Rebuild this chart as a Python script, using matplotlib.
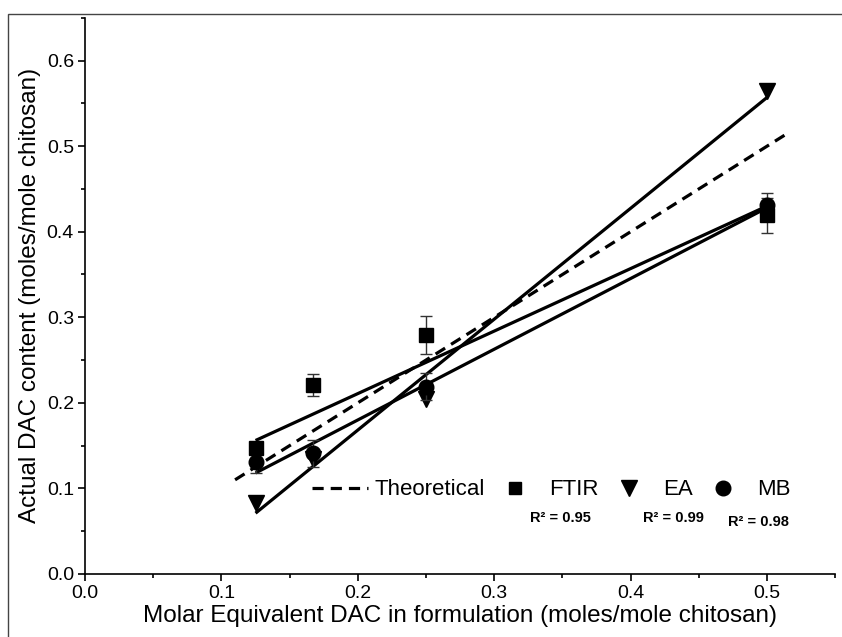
import matplotlib.pyplot as plt
from matplotlib.lines import Line2D
from matplotlib.patches import Rectangle
from matplotlib.ticker import MultipleLocator

plt.rcParams['font.family'] = ['Liberation Sans', 'DejaVu Sans']

# molar equivalents of DAC used in each formulation
dac_added = [0.125, 0.167, 0.25, 0.5]

# measured DAC content by each method
ftir = [0.147, 0.221, 0.279, 0.419]
ftir_err = [0.004, 0.013, 0.022, 0.020]
ea = [0.083, 0.134, 0.205, 0.565]
mb = [0.131, 0.141, 0.219, 0.431]
mb_err = [0.013, 0.016, 0.016, 0.014]

# linear fits over the formulation range
fit_x = [0.125, 0.5]
ftir_fit = [0.156, 0.430]
ea_fit = [0.071, 0.557]
mb_fit = [0.118, 0.428]
theo_x = [0.11, 0.517]

r2_labels = ["R\u00b2 = 0.95", "R\u00b2 = 0.99", "R\u00b2 = 0.98"]
r2_x = [0.326, 0.409, 0.471]
r2_y = [0.065, 0.065, 0.061]

fig = plt.figure(figsize=(8.42, 6.37), dpi=100)
ax = fig.add_axes([0.101, 0.099, 0.891, 0.873])

dash = (0, (3.5, 2.2))
ax.plot(theo_x, theo_x, color='black', lw=2.3, ls=dash, zorder=2)
for fit in (ftir_fit, ea_fit, mb_fit):
    ax.plot(fit_x, fit, color='black', lw=2.3, solid_capstyle='butt', zorder=2)

ax.errorbar(dac_added, ftir, yerr=ftir_err, fmt='s', color='black', ms=9.5,
            ecolor='#333333', elinewidth=1, capsize=4, capthick=1, zorder=3)
ax.plot(dac_added, ea, 'v', color='black', ms=11, ls='none', zorder=3)
ax.errorbar(dac_added, mb, yerr=mb_err, fmt='o', color='black', ms=10.5,
            ecolor='#333333', elinewidth=1, capsize=4, capthick=1, zorder=3)

for x, y, s in zip(r2_x, r2_y, r2_labels):
    ax.text(x, y, s, fontsize=10.5, fontweight='bold', ha='left', va='center')

handles = [
    Line2D([], [], color='black', lw=2.3, ls=dash),
    Line2D([], [], marker='s', color='black', ls='none', ms=9),
    Line2D([], [], marker='v', color='black', ls='none', ms=11),
    Line2D([], [], marker='o', color='black', ls='none', ms=10.5),
]
ax.legend(handles, ['Theoretical', 'FTIR', 'EA', 'MB'], loc='center left',
          bbox_to_anchor=(0.303, 0.151), ncol=4, frameon=False,
          fontsize=16, handlelength=2.5, handletextpad=0.3, columnspacing=0.1,
          borderpad=0, borderaxespad=0)

ax.set_xlim(0, 0.55)
ax.set_ylim(0, 0.65)
ax.xaxis.set_major_locator(MultipleLocator(0.1))
ax.xaxis.set_minor_locator(MultipleLocator(0.05))
ax.yaxis.set_major_locator(MultipleLocator(0.1))
ax.yaxis.set_minor_locator(MultipleLocator(0.05))
ax.xaxis.set_major_formatter(plt.FormatStrFormatter('%.1f'))
ax.yaxis.set_major_formatter(plt.FormatStrFormatter('%.1f'))

ax.spines['top'].set_visible(False)
ax.spines['right'].set_visible(False)
for side in ('left', 'bottom'):
    ax.spines[side].set_linewidth(1.2)
ax.tick_params(which='major', direction='out', length=5, width=1.2, labelsize=14, pad=3)
ax.tick_params(which='minor', direction='out', length=3, width=1.2)

ax.set_xlabel('Molar Equivalent DAC in formulation (moles/mole chitosan)', fontsize=17.5, labelpad=2)
ax.set_ylabel('Actual DAC content (moles/mole chitosan)', fontsize=17.5, labelpad=4)

# thin border around the whole figure
fig.patches.append(Rectangle((8 / 842, -0.1), 1.0, 1.1 - 14 / 637, transform=fig.transFigure,
                             fill=False, edgecolor='#444444', lw=1))

fig.savefig('out.png', dpi=100)
